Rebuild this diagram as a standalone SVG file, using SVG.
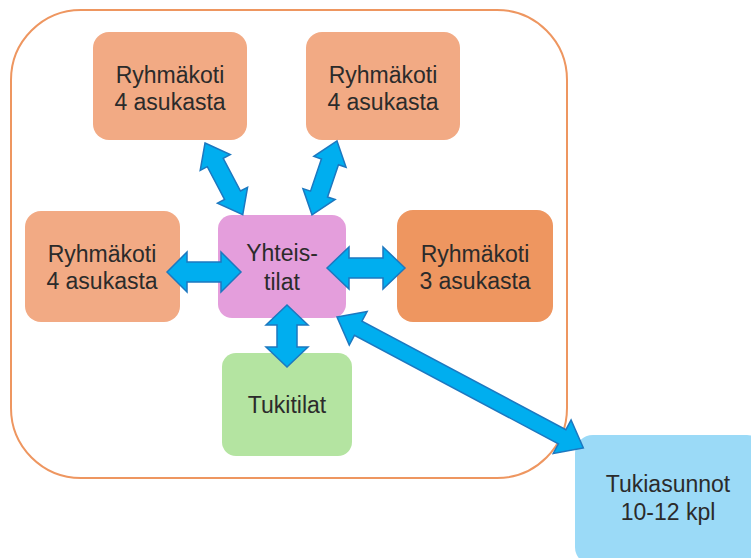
<svg xmlns="http://www.w3.org/2000/svg" width="751" height="558" viewBox="0 0 751 558">
<style>
.node text{font-family:"Liberation Sans",Arial,sans-serif;font-size:23px;fill:#2b2b2b;text-anchor:middle}
.or{fill:#F2AA84}
.or2{fill:#EE9660}
.arrow{fill:#00AEEF;stroke:#1C78C0;stroke-width:1.5;stroke-linejoin:miter}
</style>
<rect width="751" height="558" fill="#ffffff"/>
<g id="container">
<rect x="11" y="10" width="556" height="468" rx="70" ry="70" fill="none" stroke="#EE9660" stroke-width="2"/>
</g>
<g id="ryhmakoti-tl" class="node">
<rect class="or" x="93" y="32" width="154" height="108" rx="16"/>
<text x="170" y="83">Ryhmäkoti</text>
<text x="170" y="110">4 asukasta</text>
</g>
<g id="ryhmakoti-tr" class="node">
<rect class="or" x="306" y="32" width="154" height="108" rx="16"/>
<text x="383" y="83">Ryhmäkoti</text>
<text x="383" y="110">4 asukasta</text>
</g>
<g id="ryhmakoti-l" class="node">
<rect class="or" x="25" y="211" width="155" height="111" rx="16"/>
<text x="102" y="262">Ryhmäkoti</text>
<text x="102" y="289">4 asukasta</text>
</g>
<g id="yhteistilat" class="node">
<rect x="218" y="215" width="128" height="103" rx="14" fill="#E49EDC"/>
<text x="282" y="261">Yhteis-</text>
<text x="282" y="290">tilat</text>
</g>
<g id="ryhmakoti-r" class="node">
<rect class="or2" x="397" y="210" width="156" height="112" rx="16"/>
<text x="475" y="262">Ryhmäkoti</text>
<text x="475" y="289">3 asukasta</text>
</g>
<g id="tukitilat" class="node">
<rect x="222" y="353" width="130" height="103" rx="14" fill="#B4E4A1"/>
<text x="287" y="413">Tukitilat</text>
</g>
<g id="tukiasunnot" class="node">
<rect x="575" y="435" width="190" height="130" rx="18" fill="#9BDAF7"/>
<text x="668" y="492">Tukiasunnot</text>
<text x="668" y="520">10-12 kpl</text>
</g>
<g id="connectors">
<polygon class="arrow" transform="translate(205,143) rotate(62.2)" points="0,0 22,-17 22,-9 59,-9 59,-17 81,0 59,17 59,9 22,9 22,17"/>
<polygon class="arrow" transform="translate(337,141) rotate(108.7)" points="0,0 22,-17 22,-9 56,-9 56,-17 78,0 56,17 56,9 22,9 22,17"/>
<polygon class="arrow" transform="translate(167,272)" points="0,0 20,-20 20,-10 54,-10 54,-20 74,0 54,20 54,10 20,10 20,20"/>
<polygon class="arrow" transform="translate(327,268)" points="0,0 22,-21 22,-10 56,-10 56,-21 78,0 56,21 56,10 22,10 22,21"/>
<polygon class="arrow" transform="translate(287,305) rotate(90)" points="0,0 20,-21 20,-10 42,-10 42,-21 62,0 42,21 42,10 20,10 20,21"/>
<polygon class="arrow" transform="translate(337,317) rotate(28)" points="0,0 24,-19 24,-8 255,-8 255,-19 279,0 255,19 255,8 24,8 24,19"/>
</g>
</svg>
